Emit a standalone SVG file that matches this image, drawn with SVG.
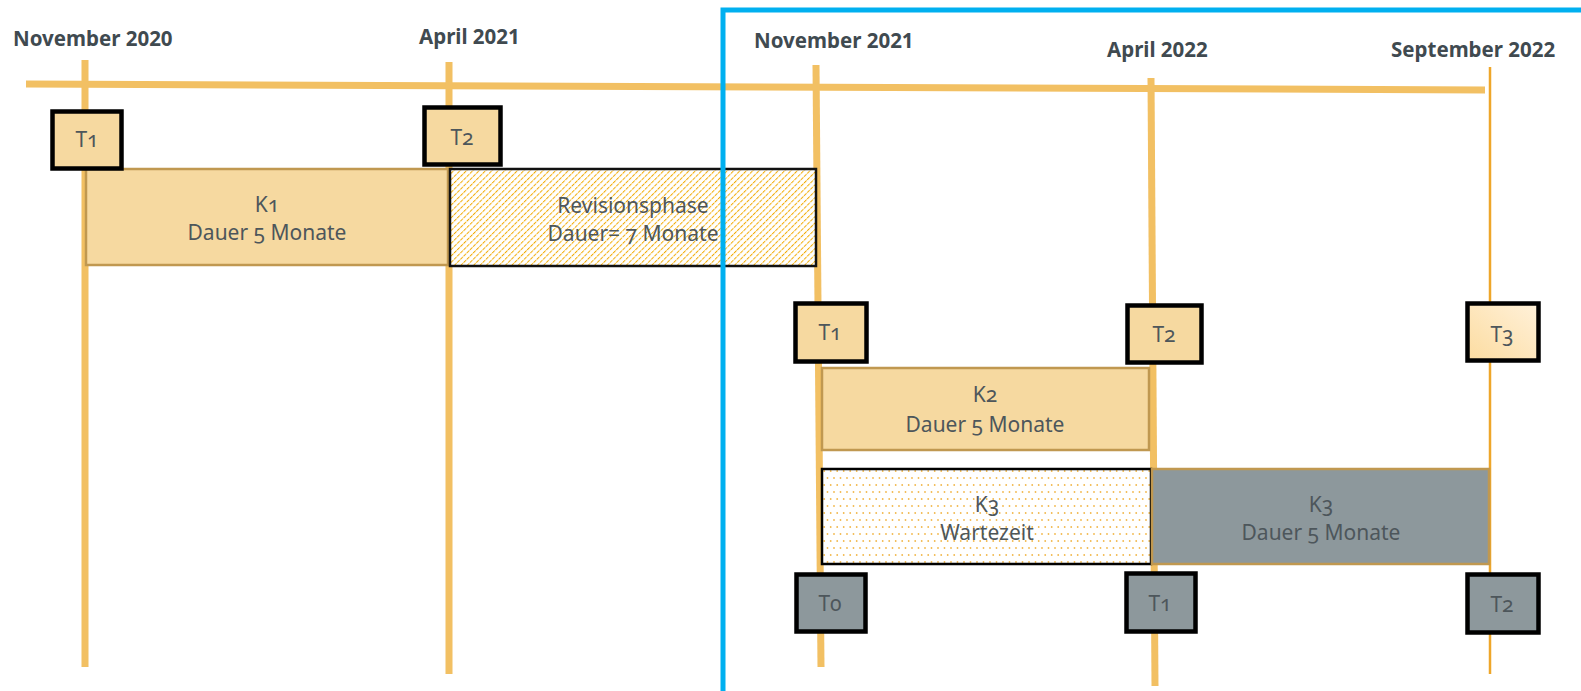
<svg xmlns="http://www.w3.org/2000/svg" width="1581" height="691" viewBox="0 0 1581 691">
<defs>
<style>
.date{font-family:"Noto Sans","Open Sans",sans-serif;font-weight:700;font-size:20.5px;fill:#404a50}
.lbl{font-family:"Noto Sans","Open Sans",sans-serif;font-size:21px;fill:#4d565b;text-anchor:middle;font-variant-numeric:oldstyle-nums}
.tl{stroke:#f2c063;stroke-width:7;fill:none}
.tbox{stroke:#000;stroke-width:4.5}
.tan{fill:#f6d9a0}
.grey{fill:#8d989c}
.kbox{stroke:#c09850;stroke-width:2.5}
</style>
<pattern id="hatch" width="4.5" height="4.5" patternUnits="userSpaceOnUse" patternTransform="rotate(45)">
<rect width="4.5" height="4.5" fill="#fff"/>
<line x1="0" y1="0" x2="0" y2="4.5" stroke="#f2aa00" stroke-width="2" stroke-dasharray="2 1"/>
</pattern>
<pattern id="dots" width="13" height="14" patternUnits="userSpaceOnUse">
<rect width="13" height="14" fill="#fff"/>
<circle cx="2" cy="2" r="0.9" fill="#f2b84b"/>
<circle cx="8.5" cy="2" r="0.9" fill="#f2b84b"/>
<circle cx="5.2" cy="9" r="0.9" fill="#f2b84b"/>
<circle cx="11.7" cy="9" r="0.9" fill="#f2b84b"/>
</pattern>
<linearGradient id="t3g" x1="0" y1="1" x2="1" y2="0">
<stop offset="0" stop-color="#fcdca0"/>
<stop offset="1" stop-color="#fff1da"/>
</linearGradient>
</defs>
<rect width="1581" height="691" fill="#fff"/>

<g id="timeline">
<line class="tl" x1="26" y1="84" x2="1485" y2="90" stroke-width="8"/>
<line class="tl" x1="85" y1="60" x2="85" y2="667"/>
<line class="tl" x1="449" y1="62" x2="449" y2="674"/>
<line class="tl" x1="816" y1="65" x2="821" y2="667"/>
<line class="tl" x1="1151" y1="78" x2="1155" y2="686"/>
<line x1="1490" y1="67" x2="1490" y2="674" stroke="#eea62a" stroke-width="2.5"/>
</g>

<g id="dates">
<text class="date" x="13" y="46">November 2020</text>
<text class="date" x="419" y="44">April 2021</text>
<text class="date" x="754" y="48">November 2021</text>
<text class="date" x="1107" y="57">April 2022</text>
<text class="date" x="1391" y="57">September 2022</text>
</g>

<g id="k1">
<rect class="tan kbox" x="86" y="169" width="362" height="96"/>
<text class="lbl" x="267" y="212">K1</text>
<text class="lbl" x="267" y="240">Dauer 5 Monate</text>
</g>
<g id="revision">
<rect x="450" y="169" width="366" height="97" fill="url(#hatch)" stroke="#111" stroke-width="2.5"/>
<text class="lbl" x="633" y="213">Revisionsphase</text>
<text class="lbl" x="633" y="241">Dauer= 7 Monate</text>
</g>
<g id="t1-top">
<rect class="tan tbox" x="52.5" y="111.5" width="69" height="57"/>
<text class="lbl" x="87" y="147">T1</text>
</g>
<g id="t2-top">
<rect class="tan tbox" x="424.5" y="107.5" width="76" height="57"/>
<text class="lbl" x="462" y="145">T2</text>
</g>

<g id="k2">
<rect class="tan kbox" x="822" y="368" width="327" height="82"/>
<text class="lbl" x="985" y="402">K2</text>
<text class="lbl" x="985" y="432">Dauer 5 Monate</text>
</g>
<g id="k3-wait">
<rect x="822" y="469" width="329" height="95" fill="url(#dots)" stroke="#000" stroke-width="2.5"/>
<text class="lbl" x="987" y="512">K3</text>
<text class="lbl" x="987" y="540">Wartezeit</text>
</g>
<g id="k3">
<rect class="grey kbox" x="1152" y="469" width="337" height="95"/>
<text class="lbl" x="1321" y="512">K3</text>
<text class="lbl" x="1321" y="540">Dauer 5 Monate</text>
</g>

<g id="t1-right">
<rect class="tan tbox" x="795.5" y="303.5" width="71" height="58"/>
<text class="lbl" x="830" y="340">T1</text>
</g>
<g id="t2-right">
<rect class="tan tbox" x="1127.5" y="305.5" width="74" height="57"/>
<text class="lbl" x="1164" y="342">T2</text>
</g>
<g id="t3-right">
<rect class="tbox" fill="url(#t3g)" x="1467.5" y="303.5" width="71" height="57"/>
<text class="lbl" x="1502" y="342">T3</text>
</g>

<g id="t0-bottom">
<rect class="grey tbox" x="796.5" y="574.5" width="69" height="57"/>
<text class="lbl" x="830" y="611">T0</text>
</g>
<g id="t1-bottom">
<rect class="grey tbox" x="1126.5" y="573.5" width="69" height="58"/>
<text class="lbl" x="1160" y="611">T1</text>
</g>
<g id="t2-bottom">
<rect class="grey tbox" x="1467.5" y="574.5" width="71" height="58"/>
<text class="lbl" x="1502" y="612">T2</text>
</g>

<g id="highlight">
<path d="M723 691 V10 H1581" fill="none" stroke="#00b0f0" stroke-width="5"/>
</g>
</svg>
